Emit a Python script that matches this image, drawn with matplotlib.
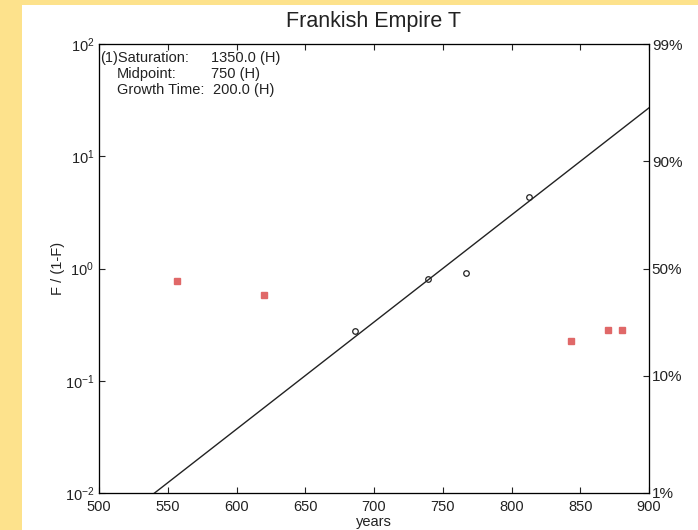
import numpy as np
import matplotlib
matplotlib.use("Agg")
import matplotlib.pyplot as plt
from matplotlib.patches import Rectangle

plt.rcParams['font.family'] = ['Liberation Sans', 'DejaVu Sans']

# Data
fit_years = [686, 739, 767, 813]
fit_values = [0.28, 0.80, 0.92, 4.3]
out_years = [557, 620, 843, 870, 880]
out_values = [0.78, 0.58, 0.227, 0.285, 0.285]

saturation = 1350.0
midpoint = 750
growth_time = 200.0

x_ticks = [500, 550, 600, 650, 700, 750, 800, 850, 900]
right_pct = [1, 10, 50, 90, 99]
right_labels = ['1%', '10%', '50%', '90%', '99%']

fig = plt.figure(figsize=(6.98, 5.30), dpi=100)
fig.patch.set_facecolor('#FDE28C')
fig.patches.append(Rectangle((22/698, 0), 1 - 22/698, 1 - 5/530,
                             transform=fig.transFigure, facecolor='white',
                             edgecolor='none', zorder=-10))

ax = fig.add_axes([99/698, 1 - 493/530, 550/698, 449/530])
ax.set_zorder(1)
ax.set_yscale('log')
ax.set_xlim(500, 900)
ax.set_ylim(1e-2, 1e2)

t = np.linspace(500, 900, 200)
yfit = np.exp(np.log(81) * (t - midpoint) / growth_time)
ax.plot(t, yfit, color='#222222', lw=1.0)

ax.plot(fit_years, fit_values, 'o', mfc='none', mec='#222222', ms=4, mew=0.9)
ax.plot(out_years, out_values, 's', color='#E06868', ms=4)

ax.set_xticks(x_ticks)
ax.set_yticks([1e-2, 1e-1, 1e0, 1e1, 1e2])
ax.minorticks_off()
ax.tick_params(direction='in', length=4, width=0.8, labelsize=10.5,
               colors='#222222', top=True, right=False)
ax.tick_params(axis='x', pad=5)
for s in ax.spines.values():
    s.set_color('#333333')
    s.set_linewidth(0.9)

ax2 = ax.twinx()
ax2.set_yscale('log')
ax2.set_ylim(1e-2, 1e2)
ax2.set_yticks([p / (100 - p) for p in right_pct])
ax2.set_yticklabels(right_labels)
ax2.minorticks_off()
ax2.tick_params(direction='in', length=4, width=0.8, labelsize=11,
                colors='#222222', pad=2)
ax2.patch.set_visible(False)

ax.set_title('Frankish Empire T', fontsize=15.5, color='#222222', pad=12)
ax.set_xlabel('years', fontsize=10.5, color='#222222', labelpad=1)
ax.set_ylabel('F / (1-F)', fontsize=10.5, color='#222222', labelpad=0)

def fx(px):
    return (px - 99) / 550

def fy(py):
    return (493 - py) / 449

fs = 10.5
ax.text(fx(100), fy(58), '(1)Saturation:', transform=ax.transAxes,
        fontsize=fs, va='center', ha='left', color='#222222')
ax.text(fx(117), fy(74), 'Midpoint:', transform=ax.transAxes,
        fontsize=fs, va='center', ha='left', color='#222222')
ax.text(fx(117), fy(90), 'Growth Time:', transform=ax.transAxes,
        fontsize=fs, va='center', ha='left', color='#222222')
ax.text(fx(211), fy(58), f'{saturation:.1f} (H)', transform=ax.transAxes,
        fontsize=fs, va='center', ha='left', color='#222222')
ax.text(fx(211), fy(74), f'{midpoint} (H)', transform=ax.transAxes,
        fontsize=fs, va='center', ha='left', color='#222222')
ax.text(fx(213), fy(90), f'{growth_time:.1f} (H)', transform=ax.transAxes,
        fontsize=fs, va='center', ha='left', color='#222222')

fig.savefig('out.png', dpi=100, facecolor=fig.get_facecolor())
